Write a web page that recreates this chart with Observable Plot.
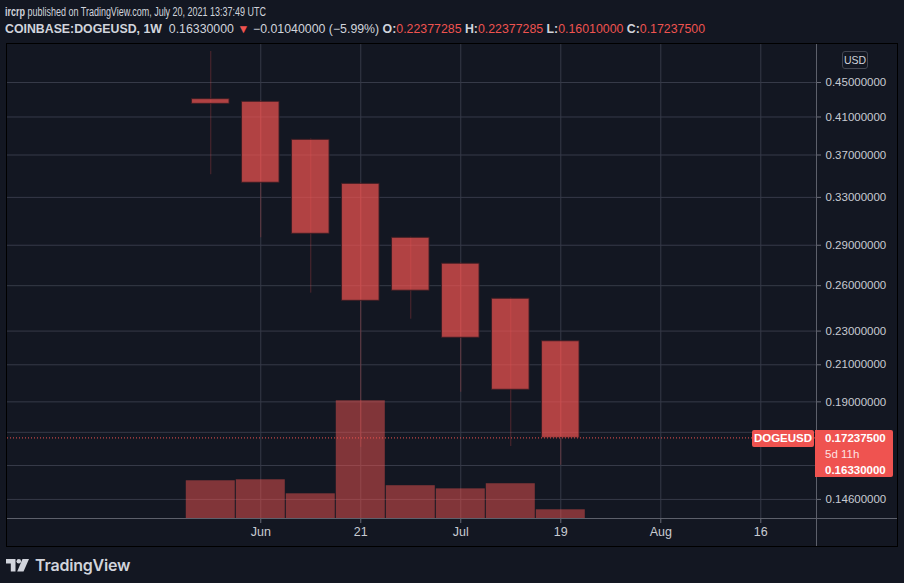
<!DOCTYPE html>
<html><head><meta charset="utf-8">
<script src="https://cdn.jsdelivr.net/npm/d3@7"></script>
<script src="https://cdn.jsdelivr.net/npm/@observablehq/plot@0.6"></script>
<style>
html,body{margin:0;padding:0;background:#131722;width:904px;height:583px;overflow:hidden;font-family:"Liberation Sans",Arial,sans-serif;color:#d1d4dc}
.hdr{position:absolute;left:5px;white-space:nowrap;font-size:12px;transform-origin:0 50%}
#hdr1{top:5px}
#hdr2{top:22px}
.b{font-weight:bold}
.r{color:#ef5350}
#chart{position:absolute;left:6px;top:43px;width:890px;height:502px;border:1px solid #000;overflow:hidden}
.layer{position:absolute;left:0;top:0}
.sep{position:absolute;background:#5d606b}
.lbl{position:absolute;background:#ef5350;color:#fff;font-size:11.5px;font-weight:bold;white-space:nowrap}
#usd{position:absolute;left:835px;top:7px;width:24px;height:16px;border:1px solid #434651;border-radius:3px;font-size:10.5px;line-height:16px;text-align:center;color:#d1d4dc}
#footer{position:absolute;left:6px;top:555px;height:20px;display:flex;align-items:center;gap:6px}
#footer span{font-family:Inter,"Liberation Sans",sans-serif;font-weight:600;font-size:16px;color:#d1d4dc;letter-spacing:-0.2px}
</style></head><body>
<div id="hdr1" class="hdr"><span class="b">ircrp</span> published on TradingView.com, July 20, 2021 13:37:49 UTC</div>
<div id="hdr2" class="hdr"><span class="b">COINBASE:DOGEUSD, 1W</span>&nbsp; 0.16330000 <span class="r">▼</span> −0.01040000 (−5.99%) <span class="b">O:</span><span class="r">0.22377285</span> <span class="b">H:</span><span class="r">0.22377285</span> <span class="b">L:</span><span class="r">0.16010000</span> <span class="b">C:</span><span class="r">0.17237500</span></div>
<div id="chart"></div>
<div id="footer">
<svg width="23" height="13" viewBox="0 0 23 13"><path d="M0 0H9.5V12.5H4.8V4.6H0Z" fill="#d1d4dc"/><circle cx="12.8" cy="2.3" r="2.3" fill="#d1d4dc"/><path d="M16.5 0H23L17.5 12.5H11.2Z" fill="#d1d4dc"/></svg>
<span>TradingView</span></div>
<script>
// ---- data ----
const weeks   = ["2021-05-31","2021-06-07","2021-06-14","2021-06-21","2021-06-28","2021-07-05","2021-07-12","2021-07-19"];
const opens   = [0.4302, 0.4272, 0.3855, 0.3423, 0.2959, 0.2759, 0.2510, 0.22377285];
const highs   = [0.4893, 0.4285, 0.3865, 0.3430, 0.2965, 0.2765, 0.2515, 0.22377285];
const lows    = [0.3508, 0.2959, 0.2548, 0.1680, 0.2375, 0.1950, 0.1684, 0.16010000];
const closes  = [0.4248, 0.3433, 0.2991, 0.2496, 0.2565, 0.2259, 0.1963, 0.17237500];
const volumes = [1.91e9, 1.96e9, 1.25e9, 5.96e9, 1.66e9, 1.50e9, 1.76e9, 0.44e9];
const yTicks  = [0.146, 0.16, 0.175, 0.19, 0.21, 0.23, 0.26, 0.29, 0.33, 0.37, 0.41, 0.45];
const yHiddenLabels = [0.16, 0.175]; // covered by the last-price label in the reference
const xTickDates  = ["2021-06-07","2021-06-21","2021-07-05","2021-07-19","2021-08-02","2021-08-16"];
const xTickLabels = ["Jun","21","Jul","19","Aug","16"];
const lastClose = 0.172375;
const lastPrice = 0.1633;

const candles = weeks.map((w,i)=>({date:new Date(w+"T00:00Z"),open:opens[i],high:highs[i],low:lows[i],close:closes[i],volume:volumes[i]}));
const xt = xTickDates.map(d=>new Date(d+"T00:00Z"));

const RED="#ef5350", GRID="#363a48", AX="#6a6d78", TXT="#c8cbd2";
const W=890, H=502;
const base = {
  width:W, height:H, marginLeft:0, marginRight:81, marginTop:0, marginBottom:28,
  style:{background:"transparent", fontFamily:"'Liberation Sans', Arial, sans-serif", overflow:"visible"},
  x:{type:"utc", domain:[new Date("2021-05-02T13:00Z"), new Date("2021-08-23T19:12Z")]}
};
const logY = {type:"log", domain:[0.13867, 0.49862]};

// layer 1: grid + axes
const gridPlot = Plot.plot({...base, y:logY, marks:[
  Plot.gridY(yTicks, {stroke:GRID, strokeOpacity:1}),
  Plot.gridX(xt, {stroke:GRID, strokeOpacity:1}),
  Plot.axisY(yTicks, {anchor:"right", tickSize:4, tickPadding:5, stroke:AX, fill:TXT, fontSize:11.5,
    tickFormat:d=>yHiddenLabels.includes(d) ? "" : d.toFixed(8)}),
  Plot.axisX(xt, {anchor:"bottom", tickSize:5, tickPadding:4, stroke:AX, fill:TXT, fontSize:12.5,
    tickFormat:d=>xTickLabels[xt.findIndex(t=>+t===+d)]})
]});
// layer 2: volume
const volPlot = Plot.plot({...base, y:{type:"linear", domain:[0, 24e9], axis:null}, x:{...base.x, axis:null}, marks:[
  Plot.rect(candles, {x1:d=>d3.utcHour.offset(d.date,-84), x2:d=>d3.utcHour.offset(d.date,84), y1:0, y2:"volume",
    fill:RED, fillOpacity:0.5, insetLeft:0.5, insetRight:0.5})
]});
// layer 3: candles
const candlePlot = Plot.plot({...base, y:{...logY, axis:null}, x:{...base.x, axis:null}, marks:[
  Plot.ruleX(candles, {x:"date", y1:"low", y2:"high", stroke:RED, strokeOpacity:0.28, strokeWidth:1}),
  Plot.rect(candles, {x1:d=>d3.utcHour.offset(d.date,-63), x2:d=>d3.utcHour.offset(d.date,63), y1:"open", y2:"close",
    fill:RED, fillOpacity:0.72, stroke:"#3a1d24", strokeOpacity:0.9, strokeWidth:1}),
  Plot.ruleY([lastClose], {stroke:RED, strokeWidth:1, strokeDasharray:"1,2"})
]});

const chart = document.getElementById("chart");
[gridPlot, volPlot, candlePlot].forEach(p=>{p.classList.add("layer"); chart.appendChild(p);});

// separators
const vsep = document.createElement("div"); vsep.className="sep";
Object.assign(vsep.style,{left:(W-81)+"px",top:"0px",width:"1px",height:H+"px"}); chart.appendChild(vsep);
const hsep = document.createElement("div"); hsep.className="sep";
Object.assign(hsep.style,{left:"0px",top:(H-28)+"px",width:W+"px",height:"1px"}); chart.appendChild(hsep);

// USD badge
const usd = document.createElement("div"); usd.id="usd"; usd.textContent="USD"; chart.appendChild(usd);

// last price labels positioned by the y scale
const yc = candlePlot.scale("y").apply(lastClose);
const tag = document.createElement("div"); tag.className="lbl";
Object.assign(tag.style,{left:"745px",top:(yc-7.5)+"px",width:"62px",height:"17px",lineHeight:"17px",textAlign:"center",borderRadius:"2px"});
tag.textContent="DOGEUSD"; chart.appendChild(tag);
const box = document.createElement("div"); box.className="lbl";
Object.assign(box.style,{left:"808px",top:(yc-7.5)+"px",width:"78px",height:"47px",borderRadius:"0 2px 2px 0"});
box.innerHTML = `<div style="position:absolute;left:10px;top:1px;line-height:14px">${lastClose.toFixed(8)}</div>
<div style="position:absolute;left:10px;top:17px;line-height:14px;font-weight:normal;color:rgba(255,255,255,0.85)">5d 11h</div>
<div style="position:absolute;left:10px;top:33px;line-height:14px">${lastPrice.toFixed(8)}</div>`;
chart.appendChild(box);

// fit header widths to the reference
function fit(id, target){const el=document.getElementById(id); const w=el.getBoundingClientRect().width; el.style.transform=`scaleX(${target/w})`;}
fit("hdr1", 261); fit("hdr2", 700);
</script>
</body></html>
